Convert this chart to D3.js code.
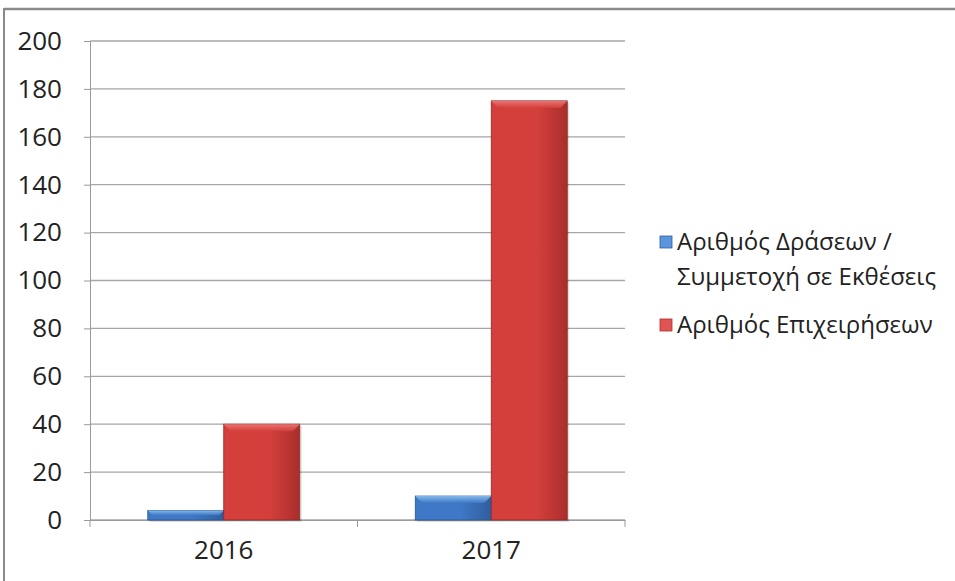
<!DOCTYPE html>
<html><head><meta charset="utf-8">
<script src="https://cdn.jsdelivr.net/npm/d3@7"></script>
<style>body{margin:0;background:#fff}svg{display:block}text{font-family:"Open Sans","Noto Sans",sans-serif;fill:#222}</style>
</head><body><svg id="c" width="955" height="581"></svg>
<script>
const categories = ["2016", "2017"];
const seriesNames = ["Αριθμός Δράσεων / Συμμετοχή σε Εκθέσεις", "Αριθμός Επιχειρήσεων"];
const seriesDraseis = [4, 10];
const seriesEpixeiriseis = [40, 175];
const yTicks = [0, 20, 40, 60, 80, 100, 120, 140, 160, 180, 200];

const svg = d3.select("#c");
const W = 955, H = 581;
// frame
svg.append("line").attr("x1",4).attr("x2",W).attr("y1",9).attr("y2",9).attr("stroke","#8a8a8a").attr("stroke-width",2.5);
svg.append("line").attr("x1",4).attr("x2",4).attr("y1",8).attr("y2",H).attr("stroke","#8a8a8a").attr("stroke-width",2);

const x0 = 90, x1 = 625, yTop = 41, yBot = 520;
const x = d3.scaleBand().domain(categories).range([x0, x1]).paddingInner(0).paddingOuter(0);
const y = d3.scaleLinear().domain([0, 200]).range([yBot, yTop]);
const xs = d3.scaleBand().domain([0,1]).range([0, x.bandwidth()]).paddingInner(0).paddingOuter(0.76);

const defs = svg.append("defs");
function grads(id, light, mid, dark) {
  const g = defs.append("linearGradient").attr("id", id).attr("x1",0).attr("x2",1).attr("y1",0).attr("y2",0);
  g.append("stop").attr("offset","0%").attr("stop-color",mid);
  g.append("stop").attr("offset","60%").attr("stop-color",mid);
  g.append("stop").attr("offset","100%").attr("stop-color",dark);
  const v = defs.append("linearGradient").attr("id", id+"v").attr("x1",0).attr("x2",0).attr("y1",0).attr("y2",1);
  v.append("stop").attr("offset","0%").attr("stop-color",light);
  v.append("stop").attr("offset","100%").attr("stop-color",mid);
}
grads("gb", "#8cc0f0", "#3f78c6", "#2f5e9e");
grads("gr", "#ee7a78", "#d43f3c", "#a92e2c");

// gridlines
svg.append("g").selectAll("line").data(yTicks).join("line")
  .attr("x1", x0).attr("x2", x1).attr("y1", d=>y(d)).attr("y2", d=>y(d))
  .attr("stroke","#a6a6a6").attr("stroke-width",1.3);

const fam = "'Open Sans','Noto Sans',sans-serif";
// y axis
const ya = svg.append("g").attr("transform",`translate(${x0},0)`).call(d3.axisLeft(y).tickValues(yTicks).tickSize(6).tickPadding(22));
ya.attr("font-size",26).attr("font-family",fam);
ya.select(".domain").attr("stroke","#9a9a9a");
ya.selectAll(".tick line").attr("stroke","#9a9a9a");
ya.selectAll("text").attr("fill","#222");

// x axis
const xa = svg.append("g").attr("transform",`translate(0,${yBot})`).call(d3.axisBottom(x).tickSize(0).tickPadding(21));
xa.attr("font-size",26).attr("font-family",fam);
xa.select(".domain").attr("stroke","#9a9a9a");
xa.selectAll("text").attr("fill","#222");
svg.append("g").selectAll("line").data([x0, x0 + x.bandwidth(), x1]).join("line")
  .attr("x1",d=>d).attr("x2",d=>d).attr("y1",yBot).attr("y2",yBot+7).attr("stroke","#9a9a9a");

// bars
const data = [];
categories.forEach((c,i)=>{
  data.push({c, s:0, v:seriesDraseis[i], g:"gb", edge:"#2a5590"});
  data.push({c, s:1, v:seriesEpixeiriseis[i], g:"gr", edge:"#8e2725"});
});
const bars = svg.append("g").selectAll("g").data(data).join("g");
bars.each(function(d){
  const g = d3.select(this);
  const bx = x(d.c) + xs(d.s), bw = xs.bandwidth(), by = y(d.v), bh = yBot - by;
  g.append("rect").attr("x",bx+2).attr("y",by+2).attr("width",bw).attr("height",bh).attr("fill","#000").attr("opacity",0.12);
  g.append("rect").attr("x",bx).attr("y",by).attr("width",bw).attr("height",bh).attr("fill",`url(#${d.g})`).attr("stroke",d.edge).attr("stroke-width",0.8);
  const bev = Math.min(7, bh/2);
  g.append("path").attr("d",`M${bx},${by}L${bx+bw},${by}L${bx+bw-bev},${by+bev}L${bx+bev},${by+bev}Z`).attr("fill",`url(#${d.g}v)`).attr("opacity",0.9);
});

// legend
const leg = svg.append("g");
const colorsL = [["#5a95dd","#2f5e9e"],["#e05552","#a92e2c"]];
const legRows = [{y:242, lines:["Αριθμός Δράσεων /","Συμμετοχή σε Εκθέσεις"]},{y:325, lines:["Αριθμός Επιχειρήσεων"]}];
legRows.forEach((r,i)=>{
  leg.append("rect").attr("x",660).attr("y",r.y-6).attr("width",12).attr("height",12).attr("fill",colorsL[i][0]).attr("stroke",colorsL[i][1]).attr("stroke-width",0.8);
  r.lines.forEach((t,j)=>{
    leg.append("text").attr("x",677).attr("y",r.y + j*35).attr("dy","0.35em").attr("font-size",24).attr("fill","#222").text(t);
  });
});
</script></body></html>
